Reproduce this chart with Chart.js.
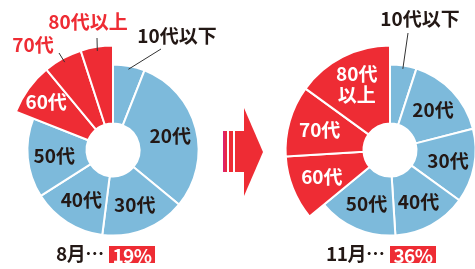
<!DOCTYPE html>
<html>
<head>
<meta charset="utf-8">
<script src="https://cdn.jsdelivr.net/npm/chart.js@4.4.1/dist/chart.umd.min.js"></script>
<style>
  body { margin: 0; width: 475px; height: 269px; overflow: hidden; background: #fff; position: relative;
         font-family: "Noto Sans CJK JP", sans-serif; }
  canvas { position: absolute; top: 0; }
  #c1 { left: 0; }
  #c2 { left: 238px; }
  .cap { position: absolute; top: 243px; font-size: 19px; font-weight: 700; color: #231815; line-height: 20px; letter-spacing: -0.5px; }
  .box { position: absolute; top: 246px; height: 17px; background: #ee2c34; color: #fff; font-size: 19px; font-weight: 700;
         line-height: 17px; text-align: center; letter-spacing: -0.5px; }
  .stripe { position: absolute; top: 131px; height: 41px; background: #ee2c34; }
  #head { position: absolute; left: 244px; top: 108px; width: 19px; height: 88px; background: #ee2c34;
          clip-path: polygon(0 0, 100% 50%, 0 100%); }
</style>
</head>
<body>
<canvas id="c1" width="237" height="269"></canvas>
<canvas id="c2" width="270" height="269"></canvas>

<div class="stripe" style="left:223px;width:4px;background:linear-gradient(90deg,#d9207a,#ee2c34);"></div>
<div class="stripe" style="left:229px;width:4px;"></div>
<div class="stripe" style="left:235px;width:10px;"></div>
<div id="head"></div>

<div class="cap" style="left:56px;">8月…</div>
<div class="box" style="left:109px;width:46px;" id="share1"></div>
<div class="cap" style="left:326px;">11月…</div>
<div class="box" style="left:390px;width:46px;" id="share2"></div>

<script>
const categories = ["10代以下", "20代", "30代", "40代", "50代", "60代", "70代", "80代以上"];
const augValues = [6, 30, 16, 14, 15, 8, 6, 5];
const novValues = [5, 16, 14, 14, 15, 10, 11, 15];
const seniorIdx = [5, 6, 7];
const augShare = "19%";
const novShare = "36%";

document.getElementById("share1").innerText = augShare;
document.getElementById("share2").innerText = novShare;

const BLUE = "#7dbadb";
const RED = "#ee2c34";
const DARK = "#231815";

// senior slices stick out further than the rest
const popOut = {
    id: "popOut",
    beforeDatasetsDraw(chart) {
        const meta = chart.getDatasetMeta(0);
        meta.data.forEach((arc, i) => {
            if (seniorIdx.includes(i)) arc.outerRadius = meta.controller.outerRadius * 1.22;
        });
    }
};

// slice labels; "out" entries get a leader line and sit outside the ring
const sliceLabels = {
    id: "sliceLabels",
    afterDatasetsDraw(chart, args, opts) {
        const ctx = chart.ctx;
        const meta = chart.getDatasetMeta(0);
        ctx.save();
        ctx.font = "700 19px 'Noto Sans CJK JP'";
        ctx.textAlign = "center";
        ctx.textBaseline = "middle";
        meta.data.forEach((arc, i) => {
            const mid = (arc.startAngle + arc.endAngle) / 2;
            const senior = seniorIdx.includes(i);
            const out = opts.out[i];
            const lines = (opts.split[i] || categories[i]).split("\n");
            let x, y;
            if (out) {
                const r0 = arc.outerRadius * 0.96;
                ctx.strokeStyle = "#333";
                ctx.lineWidth = 1;
                ctx.beginPath();
                ctx.moveTo(arc.x + Math.cos(mid) * r0, arc.y + Math.sin(mid) * r0);
                ctx.lineTo(arc.x + out.ex, arc.y + out.ey);
                ctx.stroke();
                x = arc.x + out.lx;
                y = arc.y + out.ly;
                ctx.fillStyle = senior ? RED : DARK;
            } else {
                const f = opts.frac[i] || (senior ? 0.6 : 0.55);
                const r = arc.innerRadius + f * (arc.outerRadius - arc.innerRadius);
                x = arc.x + Math.cos(mid) * r;
                y = arc.y + Math.sin(mid) * r;
                ctx.fillStyle = senior ? "#fff" : DARK;
            }
            lines.forEach((t, k) => {
                ctx.fillText(t, x, y + (k - (lines.length - 1) / 2) * 21);
            });
        });
        ctx.restore();
    }
};

function makeChart(id, values, pad, labelOpts) {
    new Chart(document.getElementById(id), {
        type: "doughnut",
        data: {
            labels: categories,
            datasets: [{
                data: values,
                backgroundColor: categories.map((c, i) => seniorIdx.includes(i) ? RED : BLUE),
                borderColor: "#fff",
                borderWidth: 2
            }]
        },
        options: {
            responsive: false,
            animation: false,
            cutout: "31%",
            radius: "80%",
            layout: { padding: pad },
            plugins: {
                legend: { display: false },
                tooltip: { enabled: false },
                sliceLabels: labelOpts
            }
        },
        plugins: [popOut, sliceLabels]
    });
}

makeChart("c1", augValues, { left: 5, top: 42, right: 16, bottom: 11 }, {
    out: {
        0: { ex: 48, ey: -101, lx: 64, ly: -114 },
        6: { ex: -54, ey: -97, lx: -80, ly: -105 },
        7: { ex: -16, ey: -112, lx: -25, ly: -128 }
    },
    split: {},
    frac: { 5: 0.72 }
});

makeChart("c2", novValues, { left: 44, top: 42, right: 10, bottom: 11 }, {
    out: {
        0: { ex: 18, ey: -117, lx: 30, ly: -131 }
    },
    split: { 7: "80代\n以上" },
    frac: {}
});
</script>
</body>
</html>
